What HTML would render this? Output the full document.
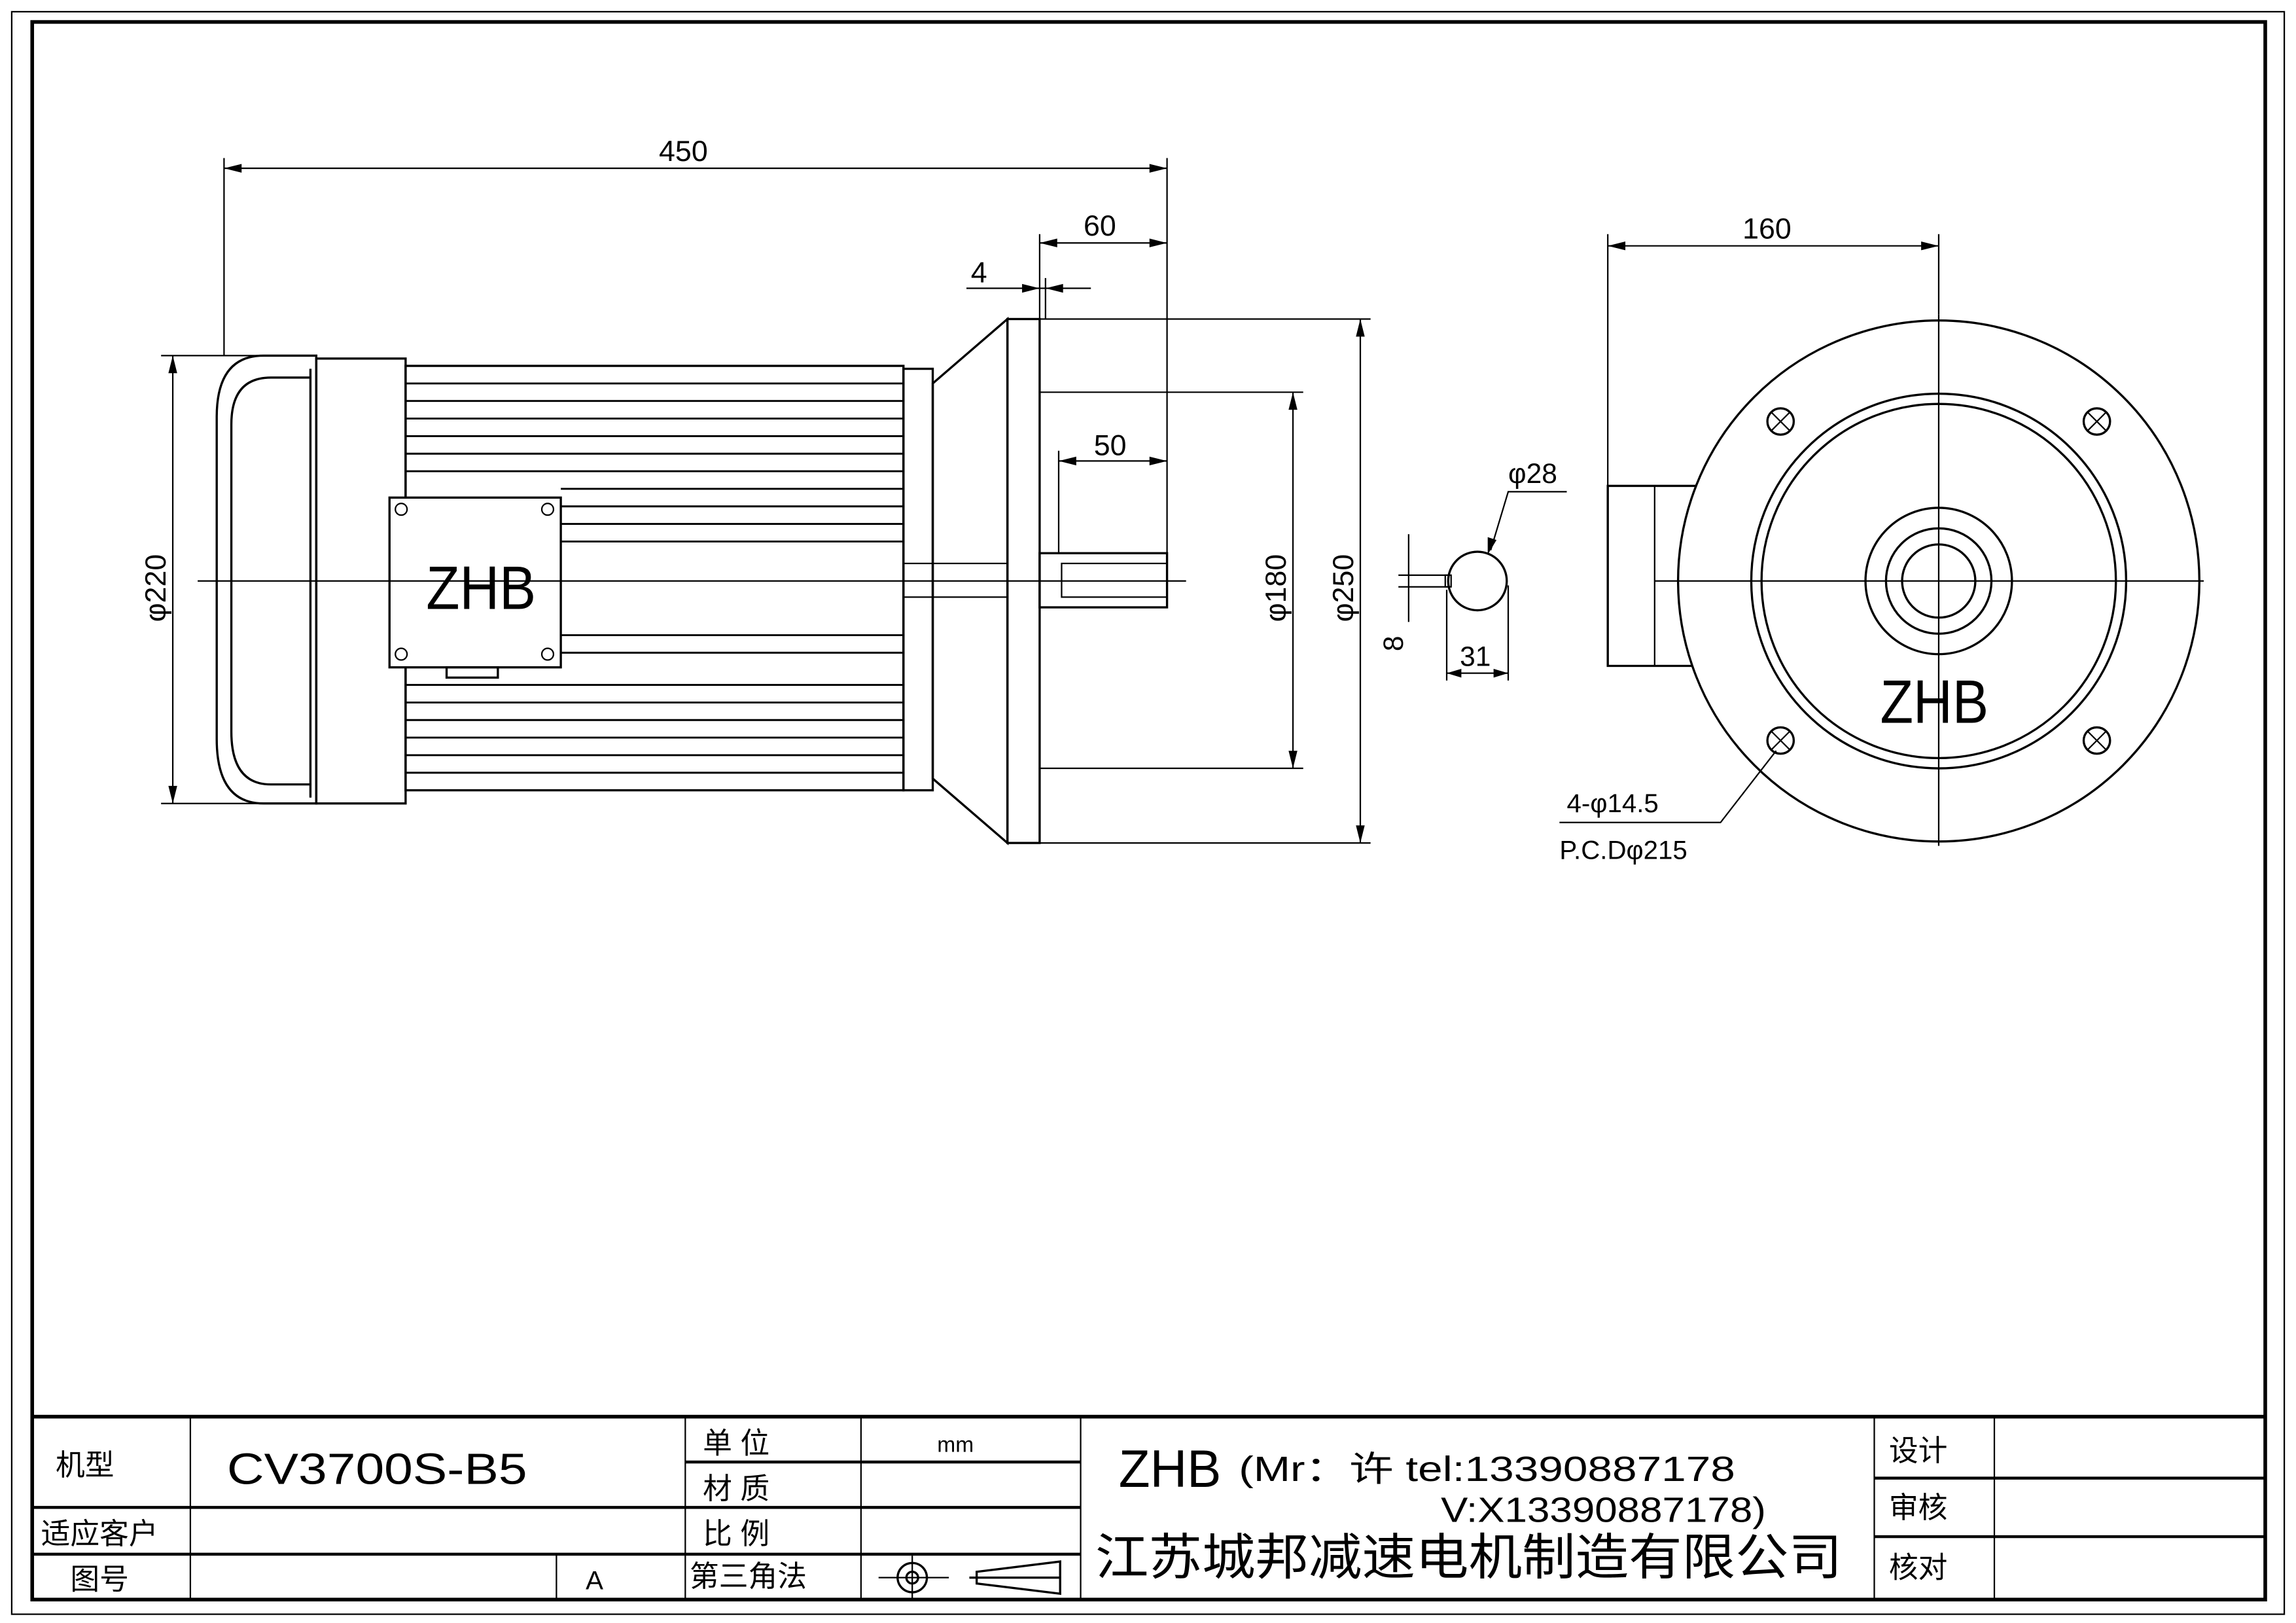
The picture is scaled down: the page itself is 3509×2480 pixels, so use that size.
<!DOCTYPE html>
<html><head><meta charset="utf-8"><style>
html,body{margin:0;padding:0;background:#fff}
svg{display:block}
text{font-family:"Liberation Sans","Noto Sans CJK SC",sans-serif;fill:#000}
</style></head><body>
<svg width="3509" height="2480" viewBox="0 0 1568 1109" preserveAspectRatio="none" xmlns="http://www.w3.org/2000/svg">
<rect width="1568" height="1109" fill="#fff"/>
<rect x="8" y="8" width="1552" height="1095" fill="none" stroke="#000" stroke-width="1"/>
<rect x="22" y="15" width="1525" height="1078" fill="none" stroke="#000" stroke-width="2.5"/>
<g stroke="#000" fill="none">
<line x1="22" y1="968" x2="1547" y2="968" stroke-width="2.5"/>
<line x1="22" y1="1030" x2="738" y2="1030" stroke-width="2"/>
<line x1="22" y1="1062" x2="738" y2="1062" stroke-width="2"/>
<line x1="468" y1="999" x2="738" y2="999" stroke-width="2"/>
<line x1="1280" y1="1010" x2="1547" y2="1010" stroke-width="2"/>
<line x1="1280" y1="1050" x2="1547" y2="1050" stroke-width="2"/>
<line x1="130" y1="968" x2="130" y2="1093" stroke-width="1"/>
<line x1="380" y1="1062" x2="380" y2="1093" stroke-width="1"/>
<line x1="468" y1="968" x2="468" y2="1093" stroke-width="1"/>
<line x1="588" y1="968" x2="588" y2="1093" stroke-width="1"/>
<line x1="738" y1="968" x2="738" y2="1093" stroke-width="1"/>
<line x1="1280" y1="968" x2="1280" y2="1093" stroke-width="1"/>
<line x1="1362" y1="968" x2="1362" y2="1093" stroke-width="1"/>
<circle cx="623" cy="1078" r="10" stroke-width="1.5"/><circle cx="623" cy="1078" r="4" stroke-width="1.5"/>
<line x1="600" y1="1078" x2="648" y2="1078"/><line x1="623" y1="1063" x2="623" y2="1092"/>
<path d="M662 1078 L724 1078 M667 1074 L724 1067 L724 1089 L667 1082 Z" stroke-width="1.5"/>
</g>
<g font-size="20">
<text x="38" y="1008">机型</text>
<text x="155" y="1014" font-size="30" textLength="205" lengthAdjust="spacingAndGlyphs">CV3700S-B5</text>
<text x="480" y="993">单  位</text>
<text x="640" y="992" font-size="15">mm</text>
<text x="480" y="1024">材  质</text>
<text x="480" y="1055">比  例</text>
<text x="28" y="1055">适应客户</text>
<text x="48" y="1086">图号</text>
<text x="400" y="1086" font-size="18">A</text>
<text x="471" y="1084">第三角法</text>
<text x="764" y="1016" font-size="36" textLength="70" lengthAdjust="spacingAndGlyphs">ZHB</text>
<text x="846" y="1012" font-size="24" textLength="339" lengthAdjust="spacingAndGlyphs">(Mr：许 tel:13390887178</text>
<text x="984" y="1040" font-size="24" textLength="222" lengthAdjust="spacingAndGlyphs">V:X13390887178)</text>
<text x="748" y="1076" font-size="34" textLength="510" lengthAdjust="spacingAndGlyphs">江苏城邦减速电机制造有限公司</text>
<text x="1290" y="998">设计</text>
<text x="1290" y="1037">审核</text>
<text x="1290" y="1078">核对</text>
</g>

<g stroke="#000" fill="none" stroke-width="1.5">
<path d="M216 243 L180 243 Q148 243 148 285 L148 505 Q148 549 180 549 L216 549 Z"/>
<path d="M212 258 L185 258 Q158 258 158 290 L158 500 Q158 536 185 536 L212 536"/>
<line x1="212" y1="252" x2="212" y2="545"/>
<rect x="216" y="245" width="61" height="304"/>
<rect x="277" y="250" width="340" height="290"/>
<rect x="617" y="252" width="20" height="288"/>
<path d="M637 262 L688 218 L688 576 L637 532 Z"/>
<rect x="688" y="218" width="22" height="358"/>
<rect x="710" y="378" width="87" height="37"/>
<rect x="725" y="385" width="72" height="23" stroke-width="1"/>
<rect x="617" y="385" width="71" height="23" stroke-width="1"/>
<rect x="266" y="340" width="117" height="116" fill="#fff"/>
<rect x="305" y="456" width="35" height="7"/>
</g>
<g stroke="#000" stroke-width="1.3">
<line x1="277" y1="262" x2="617" y2="262"/><line x1="277" y1="274" x2="617" y2="274"/>
<line x1="277" y1="286" x2="617" y2="286"/><line x1="277" y1="298" x2="617" y2="298"/>
<line x1="277" y1="310" x2="617" y2="310"/><line x1="277" y1="322" x2="617" y2="322"/>
<line x1="383" y1="334" x2="617" y2="334"/><line x1="383" y1="346" x2="617" y2="346"/>
<line x1="383" y1="358" x2="617" y2="358"/><line x1="383" y1="370" x2="617" y2="370"/>
<line x1="383" y1="434" x2="617" y2="434"/><line x1="383" y1="446" x2="617" y2="446"/>
<line x1="277" y1="468" x2="617" y2="468"/><line x1="277" y1="480" x2="617" y2="480"/>
<line x1="277" y1="492" x2="617" y2="492"/><line x1="277" y1="504" x2="617" y2="504"/>
<line x1="277" y1="516" x2="617" y2="516"/><line x1="277" y1="528" x2="617" y2="528"/>
</g>
<g stroke="#000" fill="none" stroke-width="1">
<circle cx="274" cy="348" r="4"/><circle cx="374" cy="348" r="4"/><circle cx="274" cy="447" r="4"/><circle cx="374" cy="447" r="4"/>
</g>
<text x="291" y="416" font-size="42" textLength="75" lengthAdjust="spacingAndGlyphs">ZHB</text>
<line x1="135" y1="397" x2="810" y2="397" stroke="#000" stroke-width="1"/>
<g stroke="#000" stroke-width="1" fill="none">
<line x1="153" y1="108" x2="153" y2="243"/><line x1="797" y1="108" x2="797" y2="378"/>
<line x1="153" y1="115" x2="797" y2="115"/>
<line x1="710" y1="160" x2="710" y2="218"/><line x1="710" y1="166" x2="797" y2="166"/>
<line x1="714" y1="190" x2="714" y2="218"/><line x1="660" y1="197" x2="745" y2="197"/>
<line x1="723" y1="308" x2="723" y2="378"/><line x1="723" y1="315" x2="797" y2="315"/>
<line x1="110" y1="243" x2="216" y2="243"/><line x1="110" y1="549" x2="216" y2="549"/>
<line x1="118" y1="243" x2="118" y2="549"/>
<line x1="710" y1="268" x2="890" y2="268"/><line x1="710" y1="525" x2="890" y2="525"/>
<line x1="883" y1="268" x2="883" y2="525"/>
<line x1="710" y1="218" x2="936" y2="218"/><line x1="710" y1="576" x2="936" y2="576"/>
<line x1="929" y1="218" x2="929" y2="576"/>
</g>
<g fill="#000">
<path d="M153 115 l12 -3 v6z M797 115 l-12 -3 v6z M710 166 l12 -3 v6z M797 166 l-12 -3 v6z"/>
<path d="M710 197 l-12 -3 v6z M714 197 l12 -3 v6z M723 315 l12 -3 v6z M797 315 l-12 -3 v6z"/>
<path d="M118 243 l-3 12 h6z M118 549 l-3 -12 h6z M883 268 l-3 12 h6z M883 525 l-3 -12 h6z M929 218 l-3 12 h6z M929 576 l-3 -12 h6z"/>
</g>
<g font-size="20">
<text x="450" y="110">450</text>
<text x="740" y="161">60</text>
<text x="663" y="193">4</text>
<text x="747" y="311">50</text>
<text transform="translate(113 425) rotate(-90)">φ220</text>
<text transform="translate(878 425) rotate(-90)">φ180</text>
<text transform="translate(924 425) rotate(-90)">φ250</text>
</g>
<g stroke="#000" stroke-width="1" fill="none">
<circle cx="1009" cy="397" r="20" stroke-width="1.5"/>
<rect x="987" y="393" width="4" height="8"/>
<line x1="955" y1="393" x2="990" y2="393"/><line x1="955" y1="401" x2="990" y2="401"/>
<line x1="962" y1="365" x2="962" y2="425"/>
<line x1="988" y1="403" x2="988" y2="465"/><line x1="1030" y1="400" x2="1030" y2="465"/>
<line x1="988" y1="460" x2="1030" y2="460"/>
<path d="M1070 336 L1030 336 L1018 376"/>
</g>
<g fill="#000"><path d="M988 460 l10 -3 v6z M1030 460 l-10 -3 v6z M1016 379 l0 -12 l6 2z"/></g>
<text x="1030" y="330" font-size="19">φ28</text>
<text transform="translate(958 445) rotate(-90)" font-size="19">8</text>
<text x="997" y="455" font-size="19">31</text>
<g stroke="#000" fill="none" stroke-width="1.5">
<path d="M1098 332 L1158 332 L1158 455 L1098 455 Z"/>
<line x1="1130" y1="332" x2="1130" y2="455" stroke-width="1"/>
<circle cx="1324" cy="397" r="178" fill="#fff"/>
<circle cx="1324" cy="397" r="128"/>
<circle cx="1324" cy="397" r="121"/>
<circle cx="1324" cy="397" r="50"/>
<circle cx="1324" cy="397" r="36"/>
<circle cx="1324" cy="397" r="25"/>
<circle cx="1216" cy="288" r="9"/><circle cx="1432" cy="288" r="9"/>
<circle cx="1216" cy="506" r="9"/><circle cx="1432" cy="506" r="9"/>
</g>
<g stroke="#000" stroke-width="1">
<path d="M1210 282 l12 12 M1222 282 l-12 12 M1426 282 l12 12 M1438 282 l-12 12 M1210 500 l12 12 M1222 500 l-12 12 M1426 500 l12 12 M1438 500 l-12 12"/>
<line x1="1324" y1="215" x2="1324" y2="578"/>
<line x1="1130" y1="397" x2="1505" y2="397"/>
<line x1="1098" y1="160" x2="1098" y2="332"/><line x1="1324" y1="160" x2="1324" y2="215"/>
<line x1="1098" y1="168" x2="1324" y2="168"/>
<path d="M1213 513 L1175 562 L1065 562" fill="none"/>
</g>
<g fill="#000"><path d="M1098 168 l12 -3 v6z M1324 168 l-12 -3 v6z"/></g>
<text x="1190" y="163" font-size="20">160</text>
<text x="1284" y="494" font-size="42" textLength="74" lengthAdjust="spacingAndGlyphs">ZHB</text>
<text x="1070" y="555" font-size="18">4-φ14.5</text>
<text x="1065" y="587" font-size="18">P.C.Dφ215</text>
</svg>
</body></html>
